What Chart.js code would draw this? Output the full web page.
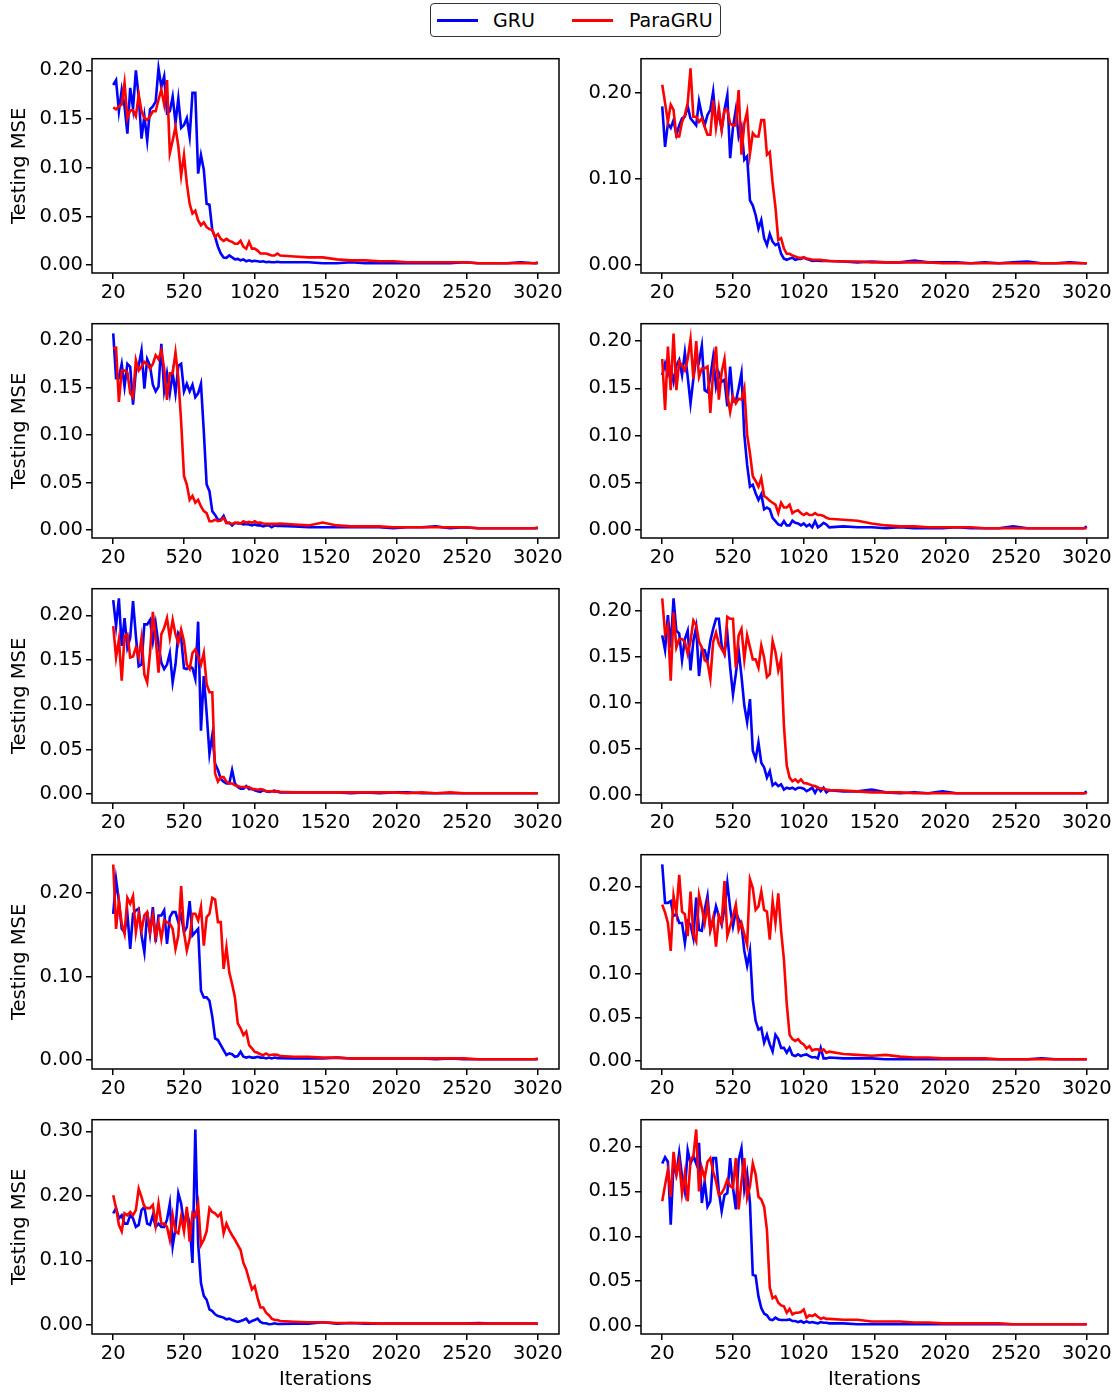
<!DOCTYPE html>
<html>
<head>
<meta charset="utf-8">
<script src="https://cdn.jsdelivr.net/npm/chart.js@4.4.1/dist/chart.umd.min.js"></script>
<style>
  html, body { margin: 0; padding: 0; background: #fff; overflow: hidden; }
  #fig { position: relative; width: 1118px; height: 1395px; background: #fff; font-family: "DejaVu Sans", sans-serif; }
  canvas { position: absolute; }
  #legend { position: absolute; left: 430px; top: 3px; width: 289px; height: 32px; border: 1.5px solid #333; border-radius: 4px; background: #fff; }
  .lg-line { position: absolute; height: 2.7px; top: 15px; }
  .lg-text { position: absolute; top: 4px; font-size: 19px; line-height: 24px; color: #000; }
</style>
</head>
<body>
<div id="fig">
  <div id="legend">
    <div class="lg-line" style="left:6px;width:41px;background:#0000ff"></div>
    <div class="lg-text" style="left:62px">GRU</div>
    <div class="lg-line" style="left:141px;width:41px;background:#ff0000"></div>
    <div class="lg-text" style="left:198px">ParaGRU</div>
  </div>
</div>
<script>
// Iteration positions: every 20 up to 1200, then every 100, plus the last one.
const ITERATIONS = [20,40,60,80,100,120,140,160,180,200,220,240,260,280,300,320,340,360,380,400,
  420,440,460,480,500,520,540,560,580,600,620,640,660,680,700,720,740,760,780,800,
  820,840,860,880,900,920,940,960,980,1000,1020,1040,1060,1080,1100,1120,1140,1160,1180,1200,
  1300,1400,1500,1600,1700,1800,1900,2000,2100,2200,2300,2400,2500,2600,2700,2800,2900,3000,3020];
const X_TICKS = [20,520,1020,1520,2020,2520,3020];
const Y_TICKS_05 = [0,0.05,0.10,0.15,0.20];
const Y_TICKS_10 = [0,0.10,0.20];
const Y_TICKS_30 = [0,0.10,0.20,0.30];
const SERIES_NAMES = ['GRU','ParaGRU'];

const gru1 = [0.185,0.190,0.158,0.180,0.163,0.135,0.182,0.161,0.200,0.173,
  0.130,0.153,0.128,0.160,0.163,0.168,0.202,0.183,0.194,0.156,
  0.158,0.173,0.146,0.171,0.141,0.144,0.151,0.132,0.177,0.177,
  0.094,0.113,0.098,0.063,0.062,0.036,0.029,0.019,0.012,0.008,
  0.0076,0.010,0.008,0.006,0.0065,0.005,0.006,0.004,0.005,0.004,
  0.0045,0.004,0.0035,0.004,0.003,0.0035,0.003,0.003,0.0035,0.003,
  0.003,0.003,0.002,0.002,0.003,0.002,0.002,0.002,0.002,0.002,0.002,0.002,0.003,0.002,0.002,0.002,0.003,0.002,0.002];
const para1 = [0.162,0.160,0.163,0.165,0.187,0.151,0.159,0.159,0.153,0.175,
  0.158,0.151,0.149,0.153,0.158,0.158,0.170,0.180,0.165,0.190,
  0.115,0.128,0.142,0.122,0.092,0.113,0.084,0.063,0.053,0.056,
  0.046,0.041,0.044,0.039,0.037,0.036,0.029,0.032,0.027,0.025,
  0.027,0.025,0.024,0.022,0.022,0.025,0.019,0.017,0.024,0.017,
  0.017,0.015,0.012,0.012,0.012,0.011,0.010,0.010,0.012,0.010,
  0.009,0.008,0.008,0.006,0.005,0.005,0.004,0.004,0.003,0.003,0.003,0.003,0.003,0.002,0.002,0.002,0.002,0.002,0.003];

const gru2 = [0.184,0.137,0.164,0.159,0.168,0.151,0.162,0.170,0.172,0.184,
  0.170,0.166,0.162,0.190,0.174,0.162,0.174,0.180,0.201,0.164,
  0.176,0.157,0.180,0.197,0.124,0.160,0.180,0.149,0.160,0.122,
  0.126,0.075,0.069,0.058,0.042,0.052,0.031,0.023,0.036,0.027,
  0.023,0.025,0.013,0.0074,0.006,0.0074,0.0085,0.006,0.007,0.007,
  0.0085,0.007,0.006,0.0047,0.005,0.005,0.0047,0.005,0.0047,0.0047,
  0.004,0.003,0.004,0.003,0.003,0.005,0.003,0.003,0.003,0.002,0.003,0.002,0.003,0.004,0.002,0.002,0.003,0.002,0.002];
const para2 = [0.209,0.188,0.166,0.186,0.180,0.149,0.149,0.166,0.174,0.188,
  0.228,0.172,0.172,0.166,0.170,0.160,0.151,0.151,0.191,0.159,
  0.182,0.157,0.180,0.180,0.164,0.162,0.162,0.203,0.128,0.164,
  0.178,0.129,0.153,0.149,0.149,0.168,0.168,0.128,0.131,0.095,
  0.067,0.029,0.031,0.019,0.013,0.013,0.011,0.010,0.0085,0.008,
  0.009,0.0074,0.007,0.006,0.006,0.006,0.006,0.005,0.005,0.0047,
  0.004,0.004,0.003,0.003,0.003,0.003,0.003,0.002,0.002,0.002,0.002,0.002,0.002,0.002,0.002,0.002,0.002,0.002,0.002];

const gru3 = [0.207,0.160,0.160,0.175,0.151,0.175,0.172,0.132,0.168,0.173,
  0.189,0.149,0.180,0.173,0.153,0.146,0.151,0.196,0.147,0.165,
  0.144,0.165,0.144,0.173,0.175,0.146,0.154,0.146,0.153,0.140,
  0.144,0.154,0.104,0.048,0.041,0.020,0.016,0.011,0.011,0.015,
  0.0077,0.0077,0.005,0.0077,0.007,0.007,0.006,0.0066,0.006,0.005,
  0.006,0.005,0.005,0.004,0.005,0.005,0.003,0.005,0.0045,0.0045,
  0.004,0.003,0.003,0.003,0.003,0.003,0.003,0.002,0.003,0.003,0.004,0.002,0.003,0.002,0.002,0.002,0.002,0.002,0.002];
const para3 = [0.191,0.192,0.135,0.168,0.168,0.166,0.144,0.140,0.179,0.168,
  0.172,0.177,0.175,0.170,0.175,0.184,0.180,0.189,0.170,0.137,
  0.165,0.165,0.187,0.160,0.114,0.057,0.048,0.032,0.036,0.029,
  0.032,0.025,0.020,0.018,0.0094,0.0094,0.011,0.0094,0.010,0.013,
  0.0077,0.0077,0.0066,0.0077,0.008,0.007,0.0094,0.008,0.0087,0.0077,
  0.0094,0.0077,0.008,0.007,0.0066,0.0066,0.0066,0.0066,0.0066,0.007,
  0.006,0.005,0.008,0.005,0.004,0.004,0.004,0.003,0.003,0.003,0.003,0.003,0.003,0.002,0.002,0.002,0.002,0.002,0.003];

const gru4 = [0.164,0.176,0.164,0.171,0.157,0.174,0.180,0.164,0.188,0.162,
  0.134,0.160,0.183,0.178,0.195,0.148,0.146,0.162,0.183,0.152,
  0.166,0.157,0.159,0.131,0.173,0.136,0.136,0.150,0.166,0.101,
  0.069,0.046,0.048,0.039,0.032,0.038,0.022,0.024,0.022,0.013,
  0.0095,0.006,0.005,0.0095,0.005,0.005,0.010,0.0077,0.007,0.005,
  0.007,0.004,0.006,0.003,0.0095,0.003,0.005,0.0077,0.006,0.003,
  0.004,0.003,0.003,0.002,0.003,0.002,0.002,0.002,0.003,0.002,0.002,0.002,0.004,0.002,0.002,0.002,0.002,0.002,0.004];
const para4 = [0.181,0.127,0.194,0.148,0.208,0.148,0.178,0.174,0.169,0.181,
  0.202,0.160,0.200,0.162,0.171,0.171,0.173,0.124,0.167,0.194,
  0.138,0.167,0.181,0.143,0.125,0.141,0.134,0.139,0.138,0.150,
  0.101,0.081,0.057,0.052,0.046,0.055,0.036,0.034,0.031,0.029,
  0.027,0.018,0.029,0.024,0.024,0.027,0.018,0.020,0.021,0.018,
  0.016,0.018,0.016,0.016,0.018,0.016,0.016,0.015,0.013,0.012,
  0.011,0.010,0.007,0.005,0.004,0.004,0.003,0.003,0.003,0.003,0.002,0.002,0.002,0.002,0.002,0.002,0.002,0.002,0.002];

const gru5 = [0.217,0.188,0.219,0.166,0.197,0.164,0.175,0.216,0.177,0.143,
  0.145,0.190,0.190,0.195,0.171,0.191,0.167,0.147,0.140,0.145,
  0.158,0.125,0.145,0.180,0.175,0.141,0.140,0.143,0.141,0.129,
  0.193,0.071,0.132,0.091,0.045,0.066,0.034,0.027,0.017,0.014,
  0.012,0.012,0.027,0.012,0.008,0.006,0.006,0.009,0.0056,0.006,
  0.0044,0.0033,0.0026,0.0044,0.0033,0.0026,0.0033,0.004,0.0026,0.002,
  0.002,0.002,0.002,0.002,0.001,0.002,0.001,0.002,0.002,0.001,0.001,0.001,0.001,0.001,0.001,0.001,0.001,0.001,0.001];
const para5 = [0.188,0.153,0.173,0.127,0.177,0.179,0.153,0.154,0.164,0.153,
  0.175,0.134,0.125,0.158,0.204,0.175,0.136,0.179,0.186,0.197,
  0.175,0.195,0.179,0.169,0.184,0.171,0.145,0.140,0.158,0.162,
  0.154,0.145,0.158,0.123,0.114,0.114,0.023,0.014,0.019,0.019,
  0.014,0.012,0.012,0.010,0.009,0.008,0.008,0.008,0.008,0.0056,
  0.0056,0.005,0.0056,0.005,0.0033,0.0033,0.0033,0.0026,0.0033,0.0026,
  0.002,0.002,0.002,0.002,0.002,0.002,0.002,0.002,0.001,0.002,0.001,0.002,0.001,0.001,0.001,0.001,0.001,0.001,0.001];

const gru6 = [0.173,0.157,0.195,0.160,0.213,0.178,0.175,0.146,0.169,0.178,
  0.135,0.167,0.182,0.129,0.158,0.157,0.146,0.167,0.180,0.191,
  0.191,0.162,0.153,0.175,0.138,0.109,0.131,0.157,0.129,0.097,
  0.079,0.104,0.048,0.039,0.057,0.035,0.030,0.019,0.026,0.0105,
  0.013,0.0098,0.0116,0.006,0.008,0.007,0.008,0.006,0.008,0.008,
  0.007,0.0043,0.006,0.008,0.0025,0.008,0.0043,0.008,0.003,0.0054,
  0.004,0.004,0.006,0.003,0.002,0.003,0.002,0.004,0.002,0.002,0.002,0.002,0.002,0.002,0.002,0.002,0.002,0.002,0.004];
const para6 = [0.213,0.175,0.184,0.124,0.198,0.160,0.169,0.169,0.166,0.153,
  0.167,0.189,0.184,0.166,0.160,0.146,0.144,0.126,0.166,0.176,
  0.164,0.158,0.153,0.193,0.191,0.191,0.138,0.173,0.180,0.147,
  0.173,0.160,0.147,0.147,0.138,0.162,0.149,0.128,0.131,0.167,
  0.155,0.135,0.147,0.075,0.032,0.019,0.015,0.017,0.014,0.017,
  0.013,0.0127,0.0116,0.0105,0.0098,0.008,0.007,0.007,0.006,0.0054,
  0.005,0.004,0.003,0.003,0.003,0.002,0.002,0.002,0.002,0.002,0.002,0.002,0.002,0.002,0.002,0.002,0.002,0.002,0.002];

const gru7 = [0.175,0.216,0.190,0.157,0.153,0.175,0.133,0.175,0.179,0.181,
  0.149,0.129,0.177,0.151,0.183,0.141,0.173,0.173,0.179,0.139,
  0.171,0.177,0.177,0.165,0.173,0.153,0.159,0.190,0.149,0.153,
  0.157,0.083,0.075,0.075,0.071,0.052,0.026,0.024,0.018,0.012,
  0.006,0.008,0.007,0.004,0.0048,0.0099,0.004,0.003,0.004,0.003,
  0.003,0.004,0.003,0.003,0.002,0.003,0.002,0.003,0.0024,0.0024,
  0.002,0.002,0.002,0.003,0.002,0.002,0.002,0.002,0.002,0.002,0.001,0.002,0.001,0.001,0.001,0.001,0.001,0.001,0.001];
const para7 = [0.234,0.157,0.190,0.163,0.151,0.194,0.187,0.196,0.153,0.175,
  0.155,0.173,0.177,0.153,0.173,0.147,0.165,0.145,0.167,0.165,
  0.163,0.157,0.133,0.149,0.208,0.153,0.131,0.145,0.175,0.175,
  0.167,0.183,0.137,0.171,0.175,0.194,0.192,0.165,0.165,0.109,
  0.135,0.105,0.091,0.075,0.044,0.038,0.030,0.034,0.018,0.014,
  0.0099,0.0087,0.007,0.006,0.0079,0.006,0.0063,0.0067,0.0063,0.0048,
  0.004,0.004,0.003,0.003,0.002,0.002,0.002,0.002,0.002,0.002,0.002,0.002,0.002,0.001,0.001,0.001,0.001,0.001,0.002];

const gru8 = [0.225,0.181,0.181,0.183,0.166,0.168,0.158,0.158,0.135,0.160,
  0.156,0.141,0.187,0.150,0.149,0.173,0.189,0.150,0.160,0.177,
  0.166,0.156,0.175,0.204,0.175,0.154,0.171,0.162,0.156,0.126,
  0.109,0.126,0.070,0.046,0.036,0.038,0.021,0.030,0.019,0.011,
  0.030,0.025,0.015,0.015,0.0095,0.015,0.007,0.0057,0.0076,0.0057,
  0.007,0.0076,0.0057,0.004,0.0046,0.003,0.015,0.003,0.003,0.004,
  0.003,0.003,0.003,0.002,0.002,0.002,0.002,0.002,0.002,0.002,0.002,0.002,0.002,0.002,0.003,0.002,0.002,0.002,0.002];
const para8 = [0.179,0.170,0.158,0.126,0.189,0.170,0.213,0.171,0.168,0.143,
  0.194,0.145,0.137,0.190,0.175,0.158,0.179,0.150,0.164,0.131,
  0.166,0.158,0.206,0.143,0.154,0.166,0.179,0.150,0.158,0.145,
  0.133,0.208,0.198,0.173,0.177,0.194,0.173,0.171,0.139,0.183,
  0.158,0.192,0.149,0.116,0.065,0.030,0.025,0.023,0.025,0.021,
  0.019,0.0145,0.017,0.012,0.0133,0.0133,0.0114,0.0133,0.0095,0.0107,
  0.008,0.007,0.006,0.007,0.005,0.004,0.004,0.003,0.003,0.003,0.003,0.002,0.002,0.002,0.002,0.002,0.002,0.002,0.002];

const gru9 = [0.173,0.181,0.165,0.170,0.157,0.157,0.170,0.165,0.152,0.155,
  0.178,0.183,0.157,0.155,0.170,0.152,0.157,0.152,0.152,0.163,
  0.188,0.122,0.150,0.204,0.188,0.155,0.175,0.157,0.096,0.303,
  0.127,0.065,0.045,0.039,0.024,0.0215,0.0164,0.0138,0.0128,0.0113,
  0.0087,0.0097,0.0077,0.006,0.0046,0.006,0.0077,0.0097,0.0036,0.006,
  0.0077,0.0097,0.0046,0.0026,0.0026,0.001,0.0015,0.0026,0.0015,0.0015,
  0.002,0.002,0.004,0.002,0.003,0.002,0.002,0.002,0.002,0.002,0.002,0.002,0.002,0.003,0.002,0.002,0.002,0.002,0.002];
const para9 = [0.201,0.181,0.155,0.145,0.173,0.170,0.175,0.170,0.178,0.211,
  0.198,0.183,0.181,0.181,0.186,0.155,0.188,0.157,0.157,0.152,
  0.132,0.170,0.145,0.142,0.168,0.145,0.183,0.129,0.173,0.168,
  0.188,0.124,0.132,0.145,0.181,0.175,0.173,0.168,0.173,0.142,
  0.157,0.147,0.139,0.132,0.124,0.116,0.096,0.086,0.070,0.055,
  0.060,0.042,0.027,0.027,0.019,0.015,0.0097,0.0077,0.0077,0.006,
  0.005,0.004,0.004,0.003,0.003,0.003,0.002,0.002,0.002,0.002,0.002,0.002,0.002,0.002,0.002,0.002,0.002,0.002,0.002];

const gru10 = [0.181,0.188,0.183,0.113,0.181,0.169,0.193,0.167,0.150,0.196,
  0.181,0.189,0.181,0.204,0.137,0.161,0.133,0.139,0.187,0.187,
  0.150,0.128,0.146,0.148,0.187,0.154,0.130,0.185,0.198,0.152,
  0.170,0.137,0.057,0.056,0.033,0.020,0.014,0.012,0.0074,0.0067,
  0.0093,0.0074,0.0067,0.0067,0.0067,0.0074,0.0056,0.0056,0.0044,0.0056,
  0.0037,0.0052,0.0037,0.0044,0.0037,0.003,0.0044,0.0037,0.0037,0.003,
  0.003,0.002,0.002,0.002,0.002,0.002,0.002,0.002,0.002,0.002,0.002,0.002,0.002,0.002,0.002,0.002,0.002,0.002,0.002];
const para10 = [0.139,0.157,0.174,0.144,0.194,0.169,0.183,0.148,0.170,0.139,
  0.185,0.189,0.219,0.150,0.176,0.165,0.183,0.187,0.172,0.161,
  0.146,0.148,0.154,0.163,0.156,0.154,0.187,0.130,0.161,0.187,
  0.143,0.156,0.181,0.169,0.144,0.141,0.133,0.107,0.043,0.031,
  0.033,0.026,0.023,0.022,0.0148,0.019,0.013,0.0148,0.0148,0.0156,
  0.0185,0.0093,0.012,0.011,0.013,0.0104,0.008,0.0093,0.008,0.008,
  0.007,0.007,0.005,0.005,0.005,0.004,0.004,0.003,0.003,0.003,0.003,0.003,0.002,0.002,0.002,0.002,0.002,0.002,0.002];

const panels = [
  {gru: gru1, para: para1, yTicks: Y_TICKS_05},
  {gru: gru2, para: para2, yTicks: Y_TICKS_10},
  {gru: gru3, para: para3, yTicks: Y_TICKS_05},
  {gru: gru4, para: para4, yTicks: Y_TICKS_05},
  {gru: gru5, para: para5, yTicks: Y_TICKS_05},
  {gru: gru6, para: para6, yTicks: Y_TICKS_05},
  {gru: gru7, para: para7, yTicks: Y_TICKS_10},
  {gru: gru8, para: para8, yTicks: Y_TICKS_05},
  {gru: gru9, para: para9, yTicks: Y_TICKS_30},
  {gru: gru10, para: para10, yTicks: Y_TICKS_05}
];

const FONT = {family: '"DejaVu Sans", sans-serif', size: 19.5};
const ROW_TOPS = [58, 323, 588, 854, 1119];
const COL_LEFTS = [92, 641];
const AX_W = 467, AX_H = 215, Y_AXIS_W = 92, PAD_TOP = 14, PAD_RIGHT = 10;

const boxPlugin = {
  id: 'box',
  afterDatasetsDraw(chart) {
    const a = chart.chartArea, ctx = chart.ctx;
    ctx.save();
    ctx.strokeStyle = '#000';
    ctx.lineWidth = 1.5;
    ctx.strokeRect(a.left, a.top, a.right - a.left, a.bottom - a.top);
    ctx.restore();
  }
};

const fig = document.getElementById('fig');
panels.forEach((p, idx) => {
  const r = Math.floor(idx / 2), c = idx % 2;
  const axTop = ROW_TOPS[r], axLeft = COL_LEFTS[c];
  const xAxisH = (r === 4) ? (1395 - (axTop + AX_H)) : 45;
  const cv = document.createElement('canvas');
  const W = Y_AXIS_W + AX_W + PAD_RIGHT, H = PAD_TOP + AX_H + xAxisH;
  cv.width = W; cv.height = H;
  cv.style.left = (axLeft - Y_AXIS_W) + 'px';
  cv.style.top = (axTop - PAD_TOP) + 'px';
  cv.style.width = W + 'px'; cv.style.height = H + 'px';
  fig.appendChild(cv);

  const all = p.gru.concat(p.para);
  const lo = Math.min(...all), hi = Math.max(...all);
  const m = 0.05 * (hi - lo);

  new Chart(cv, {
    type: 'line',
    data: {
      datasets: [
        {label: SERIES_NAMES[0], data: p.gru.map((v, i) => ({x: ITERATIONS[i], y: v})),
         borderColor: '#0000ff', borderWidth: 2.6, pointRadius: 0, tension: 0, fill: false, order: 2},
        {label: SERIES_NAMES[1], data: p.para.map((v, i) => ({x: ITERATIONS[i], y: v})),
         borderColor: '#ff0000', borderWidth: 2.6, pointRadius: 0, tension: 0, fill: false, order: 1}
      ]
    },
    options: {
      responsive: false,
      animation: false,
      devicePixelRatio: 1,
      layout: {padding: {top: PAD_TOP, right: PAD_RIGHT, left: 0, bottom: 0}},
      plugins: {legend: {display: false}, tooltip: {enabled: false}},
      scales: {
        x: {
          type: 'linear', min: -130, max: 3170,
          afterBuildTicks: s => { s.ticks = X_TICKS.map(v => ({value: v})); },
          afterFit: s => { s.height = xAxisH; },
          ticks: {font: FONT, color: '#000', padding: 2, maxRotation: 0, autoSkip: false,
                  callback: v => String(v)},
          grid: {display: true, drawOnChartArea: false, drawTicks: true, tickLength: 6, color: '#000', lineWidth: 1.5},
          border: {display: false},
          title: {display: r === 4, text: 'Iterations', font: FONT, color: '#000', padding: {top: 4, bottom: 3}}
        },
        y: {
          type: 'linear', min: lo - m, max: hi + m,
          afterBuildTicks: s => { s.ticks = p.yTicks.map(v => ({value: v})); },
          afterFit: s => { s.width = Y_AXIS_W; },
          ticks: {font: FONT, color: '#000', padding: 3, autoSkip: false,
                  callback: v => Number(v).toFixed(2)},
          grid: {display: true, drawOnChartArea: false, drawTicks: true, tickLength: 6, color: '#000', lineWidth: 1.5},
          border: {display: false},
          title: {display: c === 0, text: 'Testing MSE', font: FONT, color: '#000', padding: {top: 8, bottom: 0}}
        }
      }
    },
    plugins: [boxPlugin]
  });
});
</script>
</body>
</html>
